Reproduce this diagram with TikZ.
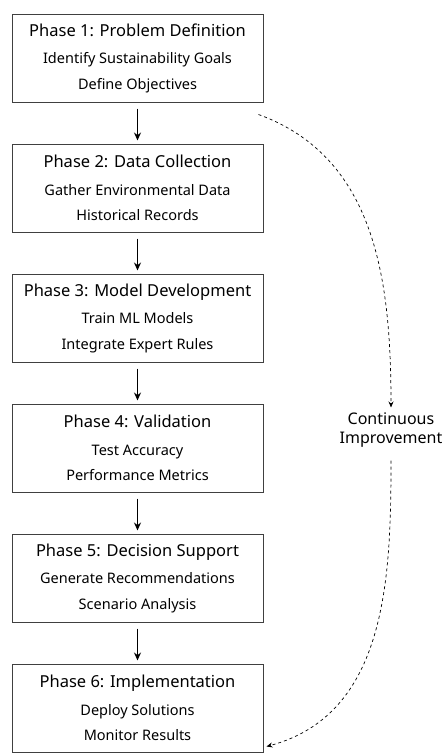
\documentclass[tikz,border=0pt]{standalone}
\usepackage{fontspec}
\setmainfont{Noto Sans}
\usetikzlibrary{positioning,arrows.meta}
\newcommand{\phasetitle}[1]{{\fontsize{16.5}{26}\selectfont #1}}
\tikzset{
	phase/.style={draw=black!75, line width=1pt, minimum width=251pt, minimum height=88pt, align=center, font=\fontsize{14.5}{25.5}\selectfont},
	flow/.style={line width=1.2pt, -{Stealth[length=8pt,width=7pt]}, shorten <=6pt, shorten >=3pt},
	feedback/.style={dashed, line width=0.7pt, -{Stealth[length=6pt,width=5pt]}}
}
\begin{document}
\begin{tikzpicture}[x=1pt,y=1pt,node distance=41pt]
	\useasboundingbox (0,0) rectangle (445,-753);
	\node[phase] (phase1) at (137.5,-58) {\phasetitle{Phase 1: Problem Definition}\\[2pt] Identify Sustainability Goals\\ Define Objectives};
	\node[phase, below=of phase1] (phase2) {\phasetitle{Phase 2: Data Collection}\\[2pt] Gather Environmental Data\\ Historical Records};
	\node[phase, below=of phase2] (phase3) {\phasetitle{Phase 3: Model Development}\\[2pt] Train ML Models\\ Integrate Expert Rules};
	\node[phase, below=of phase3] (phase4) {\phasetitle{Phase 4: Validation}\\[2pt] Test Accuracy\\ Performance Metrics};
	\node[phase, below=of phase4] (phase5) {\phasetitle{Phase 5: Decision Support}\\[2pt] Generate Recommendations\\ Scenario Analysis};
	\node[phase, below=of phase5] (phase6) {\phasetitle{Phase 6: Implementation}\\[2pt] Deploy Solutions\\ Monitor Results};
	\draw[flow] (phase1) -- (phase2); % main flow
	\draw[flow] (phase2) -- (phase3);
	\draw[flow] (phase3) -- (phase4);
	\draw[flow] (phase4) -- (phase5);
	\draw[flow] (phase5) -- (phase6);
	\node[align=center, font=\fontsize{16}{19}\selectfont, inner sep=5pt] (improve) at (391,-430) {Continuous\\ Improvement};
	\coordinate[below left=12pt and 5pt of phase1.south east] (fbstart);
	\coordinate[above right=6pt and 3pt of phase6.south east] (fbend);
	\draw[feedback] (fbstart) to[out=-20,in=90] (improve.north); % feedback loop
	\draw[feedback, shorten <=8pt] (improve.south) to[out=-90,in=15] (fbend);
\end{tikzpicture}
\end{document}
